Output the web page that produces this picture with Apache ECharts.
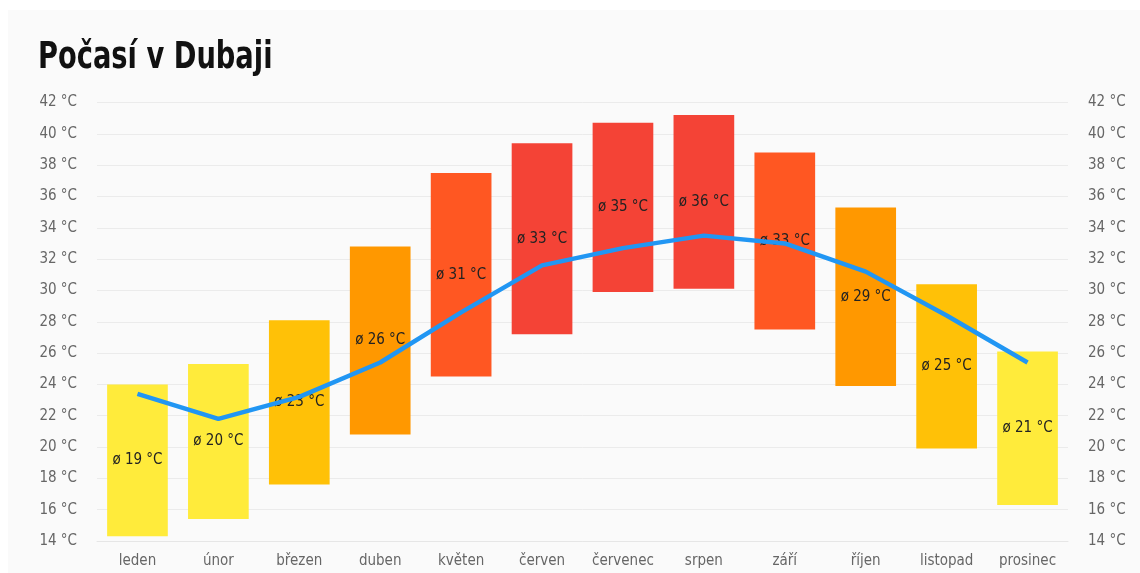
<!DOCTYPE html>
<html>
<head>
<meta charset="utf-8">
<script src="https://cdn.jsdelivr.net/npm/echarts@6/dist/echarts.min.js"></script>
<style>
html,body{margin:0;padding:0;background:#ffffff;}
#chart{width:1140px;height:573px;}
</style>
</head>
<body>
<div id="chart"></div>
<script>
const months = ['leden','únor','březen','duben','květen','červen','červenec','srpen','září','říjen','listopad','prosinec'];
const minTemps = [14.3, 15.4, 17.6, 20.8, 24.5, 27.2, 29.9, 30.1, 27.5, 23.9, 19.9, 16.3];
const maxTemps = [24.0, 25.3, 28.1, 32.8, 37.5, 39.4, 40.7, 41.2, 38.8, 35.3, 30.4, 26.1];
const avgLabels = [19, 20, 23, 26, 31, 33, 35, 36, 33, 29, 25, 21];
const lineTemps = [23.4, 21.8, 23.2, 25.4, 28.6, 31.6, 32.7, 33.5, 33.0, 31.2, 28.4, 25.4];
const barColors = ['#FFEB3B','#FFEB3B','#FFC107','#FF9800','#FF5722','#F44336','#F44336','#F44336','#FF5722','#FF9800','#FFC107','#FFEB3B'];
const yTicks = [14,16,18,20,22,24,26,28,30,32,34,36,38,40,42];
const titleText = 'Počasí v Dubaji';

const FONT = '"Liberation Sans Narrow","DejaVu Sans Condensed","Roboto Condensed","Noto Sans",sans-serif';

const chart = echarts.init(document.getElementById('chart'), null, {renderer:'canvas'});
const yAxisCommon = {
  type: 'value',
  min: yTicks[0],
  max: yTicks[yTicks.length-1],
  interval: 2,
  axisLine: {show:false},
  axisTick: {show:false},
  axisLabel: {formatter: v => v + ' °C', color:'#666', fontFamily: FONT, fontSize: 15, margin: 20}
};
chart.setOption({
  backgroundColor: 'transparent',
  animation: false,
  graphic: [{
    type: 'rect', z: -10, silent: true,
    shape: {x: 8, y: 10, width: 1132, height: 563},
    style: {fill: '#fafafa'}
  }, {
    type: 'text', left: 38, top: 40, scaleX: 0.82, z: 10,
    style: {text: titleText, fontFamily: FONT, fontWeight: 'bold', fontSize: 37, fill: '#111'}
  }],
  grid: {left: 97, right: 72, top: 102.5, bottom: 32, containLabel: false},
  xAxis: {
    type: 'category',
    data: months,
    axisLine: {show: true, lineStyle: {color: '#e6e6e6', width: 1}},
    axisTick: {show: false},
    axisLabel: {color: '#666', fontFamily: FONT, fontSize: 15, margin: 13}
  },
  yAxis: [
    Object.assign({}, yAxisCommon, {position:'left', splitLine: {lineStyle: {color: '#ebebeb', width: 1}}}),
    Object.assign({}, yAxisCommon, {position:'right', splitLine: {show:false}})
  ],
  series: [
    {
      type: 'bar', stack: 't', data: minTemps, barWidth: '75%',
      itemStyle: {color: 'transparent'}, silent: true
    },
    {
      type: 'bar', stack: 't',
      data: maxTemps.map((v,i) => ({value: +(v - minTemps[i]).toFixed(2), itemStyle: {color: barColors[i]}})),
      barWidth: '75%',
      label: {
        show: true, position: 'inside',
        formatter: p => 'ø ' + avgLabels[p.dataIndex] + ' °C',
        color: '#222', fontFamily: FONT, fontSize: 15
      }
    },
    {
      type: 'line', data: lineTemps, symbol: 'none', smooth: false,
      lineStyle: {color: '#2196F3', width: 4.5}, z: 5
    }
  ]
});
</script>
</body>
</html>
